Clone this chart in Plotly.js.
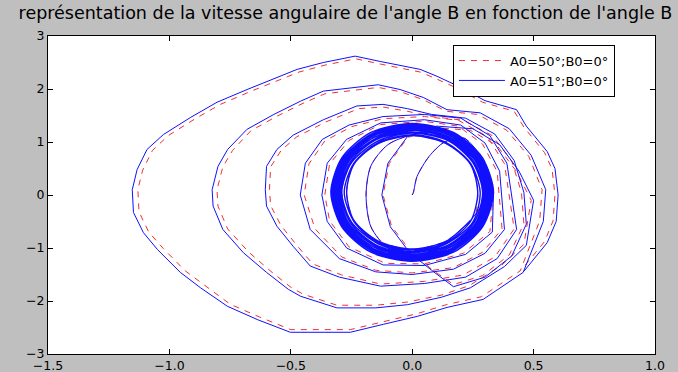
<!DOCTYPE html>
<html>
<head>
<meta charset="utf-8">
<script src="https://cdn.plot.ly/plotly-3.0.1.min.js"></script>
<style>
html,body{margin:0;padding:0;background:#bfbfbf;}
#chart{width:678px;height:372px;}
</style>
</head>
<body>
<div id="chart"></div>
<script>
// ---- data ----
var seriesNames = ["A0=50°;B0=0°", "A0=51°;B0=0°"];
var xTickVals = [-1.5, -1.0, -0.5, 0.0, 0.5, 1.0];
var xTickText = ["−1.5", "−1.0", "−0.5", "0.0", "0.5", "1.0"];
var yTickVals = [-3, -2, -1, 0, 1, 2, 3];
var yTickText = ["−3", "−2", "−1", "0", "1", "2", "3"];

// start at the origin + first inner loops (both series)
var startX = [0, 0.005, 0.02, 0.07, 0.13, 0.21, 0.27, 0.3, 0.29, 0.24,
  0.14, 0.0, -0.1, -0.17, -0.19, -0.17, -0.1, 0.01, 0.14, 0.24, 0.29, 0.29, 0.24];
var startY = [0, 0.05, 0.35, 0.73, 0.99, 1.08, 0.8, 0.3, -0.25, -0.7,
  -1.02, -1.12, -1.0, -0.6, 0.0, 0.55, 0.95, 1.15, 1.18, 0.95, 0.45, -0.15, -0.48];

// blue (A0=51°): dense ring of loops
var blueRingX = [
  0.24,0.14,0,-0.14,-0.24,-0.27,-0.24,-0.14,0,0.14,0.24,0.27,
  0.24,0.14,0.01,-0.14,-0.24,-0.28,-0.24,-0.14,0.01,0.14,0.24,0.28,
  0.25,0.14,0,-0.14,-0.25,-0.29,-0.25,-0.14,0,0.15,0.25,0.29,
  0.255,0.15,-0.01,-0.15,-0.255,-0.295,-0.255,-0.15,0,0.15,0.255,0.295,
  0.26,0.15,0,-0.15,-0.26,-0.30,-0.26,-0.15,0.01,0.15,0.26,0.30,
  0.265,0.15,0,-0.15,-0.265,-0.305,-0.265,-0.15,0,0.155,0.265,0.305,
  0.27,0.155,0.01,-0.155,-0.27,-0.31,-0.27,-0.155,0,0.155,0.27,0.31,
  0.27,0.16,0,-0.16,-0.27,-0.315,-0.27,-0.16,0.01,0.16,0.27,0.315,
  0.275,0.16,-0.01,-0.16,-0.275,-0.32,-0.275,-0.16,0,0.16,0.275,0.32,
  0.28,0.16,0,-0.16,-0.28,-0.32,-0.28,-0.16,0,0.165,0.28,0.32,
  0.28,0.165,0,-0.165,-0.28,-0.325,-0.28,-0.165,0.01,0.165,0.28,0.325,
  0.285,0.165,0,-0.165,-0.285,-0.33,-0.285,-0.165,0,0.165,0.285,0.33,
  0.285,0.165,0.01,-0.165,-0.285,-0.33,-0.285,-0.165,0,0.17,0.29,0.335,
  0.29,0.17,0,-0.17,-0.29,-0.335,-0.29,-0.17,0,0.17,0.29,0.335];
var blueRingY = [
  -0.48,-0.87,-1.02,-0.87,-0.48,0.05,0.58,0.97,1.12,0.97,0.58,0.05,
  -0.5,-0.9,-1.04,-0.9,-0.5,0.05,0.6,0.99,1.14,0.99,0.6,0.05,
  -0.51,-0.92,-1.07,-0.92,-0.51,0.05,0.61,1.02,1.17,1.02,0.61,0.05,
  -0.52,-0.94,-1.09,-0.94,-0.52,0.05,0.62,1.04,1.19,1.04,0.62,0.05,
  -0.54,-0.96,-1.12,-0.96,-0.54,0.05,0.64,1.06,1.22,1.06,0.64,0.05,
  -0.54,-0.97,-1.13,-0.97,-0.54,0.05,0.64,1.07,1.23,1.07,0.64,0.05,
  -0.55,-0.99,-1.15,-0.99,-0.55,0.05,0.65,1.09,1.25,1.09,0.65,0.05,
  -0.56,-1.01,-1.17,-1.01,-0.56,0.05,0.66,1.11,1.27,1.11,0.66,0.05,
  -0.57,-1.02,-1.19,-1.02,-0.57,0.05,0.67,1.12,1.29,1.12,0.67,0.05,
  -0.57,-1.03,-1.2,-1.03,-0.57,0.05,0.67,1.13,1.3,1.13,0.67,0.05,
  -0.58,-1.04,-1.21,-1.04,-0.58,0.05,0.68,1.14,1.31,1.14,0.68,0.05,
  -0.59,-1.05,-1.22,-1.05,-0.59,0.05,0.69,1.15,1.32,1.15,0.69,0.05,
  -0.59,-1.06,-1.24,-1.06,-0.59,0.05,0.69,1.16,1.34,1.16,0.69,0.05,
  -0.6,-1.08,-1.25,-1.08,-0.6,0.05,0.7,1.18,1.35,1.18,0.7,0.05];

// blue : outer loops
var blueOuterX = [
  0.33,0.22,0.05,-0.12,-0.27,-0.35,-0.372,-0.35,-0.27,-0.13,0.05,0.2,0.3,0.36,0.37,
  0.38,0.3,0.17,0.0,-0.15,-0.3,-0.42,-0.461,-0.44,-0.37,-0.26,-0.12,0.05,0.2,0.32,0.39,0.41,
  0.43,0.35,0.22,0.05,-0.13,-0.3,-0.42,-0.49,-0.557,-0.6,-0.605,-0.6,-0.557,-0.49,-0.366,-0.228,-0.12,-0.02,0.08,0.22,0.34,0.42,0.46,
  0.47,0.41,0.3,0.17,0.08,-0.01,-0.09,-0.125,-0.1,-0.02,0.1,0.25,0.36,0.44,0.5,
  0.47,0.38,0.24,0.12,-0.02,-0.15,-0.31,-0.46,-0.51,-0.6,-0.695,-0.78,-0.82,-0.824,-0.8,-0.76,-0.68,-0.57,-0.46,-0.366,-0.14,-0.05,0.046,0.143,0.28,0.4,0.49,0.55,0.54,
  0.457,0.292,0.144,0.021,-0.119,-0.255,-0.502,-0.638,-0.761,-0.872,-0.955,-1.049,-1.107,-1.148,-1.153,-1.133,-1.092,-1.025,-0.914,-0.804,-0.68,-0.557,-0.474,-0.366,-0.235,-0.132,0.033,0.102,0.177,0.3,0.43,0.47,0.556,0.588,0.601,0.593,0.556,0.46];
var blueOuterY = [
  -0.7,-1.12,-1.33,-1.32,-1.0,-0.5,0.0,0.6,1.05,1.36,1.42,1.32,0.98,0.45,-0.15,
  -0.65,-1.1,-1.4,-1.5,-1.45,-1.2,-0.65,0.0,0.6,1.05,1.32,1.48,1.52,1.45,1.12,0.6,0.0,
  -0.65,-1.2,-1.55,-1.67,-1.72,-1.55,-1.34,-0.97,-0.59,-0.21,0.1,0.54,0.86,1.13,1.42,1.68,1.71,1.63,1.52,1.45,1.15,0.65,0.05,
  -0.55,-1.15,-1.55,-1.73,-1.42,-1.09,-0.6,0.0,0.6,1.1,1.3,1.25,0.95,0.45,-0.1,
  -0.95,-1.35,-1.75,-1.93,-2.07,-2.13,-2.13,-1.91,-1.78,-1.46,-1.09,-0.65,-0.21,0.1,0.54,0.86,1.24,1.52,1.77,1.96,2.08,1.99,1.84,1.61,1.55,1.25,0.75,0.1,-0.5,
  -1.46,-1.97,-2.12,-2.29,-2.44,-2.59,-2.59,-2.35,-2.1,-1.75,-1.46,-1.03,-0.71,-0.33,0.1,0.48,0.86,1.14,1.46,1.75,1.99,2.22,2.37,2.5,2.62,2.52,2.37,2.24,2.08,1.78,1.61,1.3,0.82,0.5,0.0,-0.5,-0.9,-1.44];

// red (A0=50°): ring (mostly hidden under the blue one)
var redRingX = [
  0.24,0.14,0,-0.14,-0.24,-0.27,-0.24,-0.14,0,0.14,0.24,0.27,
  0.25,0.14,0,-0.14,-0.25,-0.29,-0.25,-0.14,0,0.15,0.25,0.29,
  0.26,0.15,0,-0.15,-0.26,-0.30,-0.26,-0.15,0.01,0.15,0.26,0.30,
  0.27,0.155,0.01,-0.155,-0.27,-0.31,-0.27,-0.155,0,0.155,0.27,0.31,
  0.275,0.16,-0.01,-0.16,-0.275,-0.32,-0.275,-0.16,0,0.16,0.275,0.32,
  0.28,0.165,0,-0.165,-0.28,-0.325,-0.28,-0.165,0.01,0.165,0.28,0.325,
  0.285,0.165,0.01,-0.165,-0.285,-0.33,-0.285,-0.165,0,0.17,0.29,0.335];
var redRingY = [
  -0.48,-0.87,-1.02,-0.87,-0.48,0.05,0.58,0.97,1.12,0.97,0.58,0.05,
  -0.51,-0.92,-1.07,-0.92,-0.51,0.05,0.61,1.02,1.17,1.02,0.61,0.05,
  -0.54,-0.96,-1.12,-0.96,-0.54,0.05,0.64,1.06,1.22,1.06,0.64,0.05,
  -0.55,-0.99,-1.15,-0.99,-0.55,0.05,0.65,1.09,1.25,1.09,0.65,0.05,
  -0.57,-1.02,-1.19,-1.02,-0.57,0.05,0.67,1.12,1.29,1.12,0.67,0.05,
  -0.58,-1.04,-1.21,-1.04,-0.58,0.05,0.68,1.14,1.31,1.14,0.68,0.05,
  -0.59,-1.06,-1.24,-1.06,-0.59,0.05,0.69,1.16,1.34,1.16,0.69,0.05];

// red : outer loops (slightly inside the blue ones)
var redOuterX = [
  0.32,0.21,0.05,-0.11,-0.26,-0.34,-0.36,-0.34,-0.26,-0.13,0.05,0.19,0.29,0.35,0.36,
  0.37,0.29,0.17,0.0,-0.15,-0.29,-0.4,-0.445,-0.425,-0.36,-0.25,-0.12,0.05,0.19,0.31,0.38,0.4,
  0.42,0.34,0.21,0.05,-0.13,-0.29,-0.41,-0.475,-0.54,-0.583,-0.588,-0.583,-0.54,-0.475,-0.355,-0.22,-0.12,-0.02,0.08,0.21,0.33,0.41,0.45,
  0.46,0.4,0.29,0.17,0.08,-0.005,-0.085,-0.12,-0.095,-0.02,0.1,0.24,0.35,0.43,0.49,
  0.46,0.37,0.235,0.12,-0.02,-0.15,-0.31,-0.45,-0.5,-0.585,-0.675,-0.76,-0.8,-0.804,-0.78,-0.74,-0.665,-0.56,-0.45,-0.36,-0.14,-0.05,0.045,0.14,0.27,0.39,0.48,0.535,0.525,
  0.445,0.285,0.14,0.02,-0.118,-0.255,-0.5,-0.63,-0.75,-0.855,-0.935,-1.025,-1.085,-1.125,-1.13,-1.11,-1.07,-1.005,-0.897,-0.79,-0.668,-0.548,-0.466,-0.36,-0.232,-0.13,0.033,0.1,0.173,0.29,0.42,0.46,0.545,0.576,0.588,0.58,0.545,0.45];
var redOuterY = [
  -0.69,-1.1,-1.3,-1.29,-0.98,-0.49,0.0,0.59,1.03,1.33,1.39,1.3,0.96,0.44,-0.15,
  -0.64,-1.08,-1.37,-1.47,-1.42,-1.17,-0.64,0.0,0.59,1.02,1.29,1.44,1.48,1.41,1.1,0.59,0.0,
  -0.64,-1.17,-1.51,-1.63,-1.68,-1.51,-1.3,-0.95,-0.58,-0.2,0.1,0.53,0.84,1.1,1.38,1.63,1.66,1.58,1.48,1.41,1.12,0.64,0.05,
  -0.54,-1.13,-1.52,-1.69,-1.4,-1.07,-0.59,0.0,0.59,1.08,1.27,1.22,0.93,0.44,-0.1,
  -0.93,-1.32,-1.71,-1.89,-2.02,-2.08,-2.08,-1.87,-1.74,-1.43,-1.07,-0.64,-0.21,0.1,0.53,0.84,1.21,1.48,1.73,1.91,2.03,1.95,1.8,1.58,1.52,1.22,0.73,0.1,-0.49,
  -1.43,-1.92,-2.07,-2.24,-2.39,-2.54,-2.54,-2.3,-2.06,-1.71,-1.43,-1.01,-0.7,-0.32,0.1,0.47,0.84,1.12,1.43,1.71,1.95,2.17,2.32,2.45,2.57,2.47,2.32,2.19,2.04,1.75,1.58,1.28,0.8,0.49,0.0,-0.49,-0.88,-1.41];

var FONT = "DejaVu Sans, Liberation Sans, sans-serif";
var RED = "#f03030", BLUE = "#1010ff";
var redDash = "6px,6px";

function lastOf(a) { return a[a.length - 1]; }

var traces = [
  {x: startX.concat(redRingX), y: startY.concat(redRingY), type: "scatter", mode: "lines",
   name: seriesNames[0], legendgroup: "r", showlegend: false,
   line: {color: RED, width: 1, dash: redDash, shape: "spline", smoothing: 0.8}},
  {x: [lastOf(redRingX)].concat(redOuterX), y: [lastOf(redRingY)].concat(redOuterY),
   type: "scatter", mode: "lines", name: seriesNames[0], legendgroup: "r",
   line: {color: RED, width: 1, dash: redDash}},
  {x: startX, y: startY, type: "scatter", mode: "lines",
   name: seriesNames[1], legendgroup: "b", showlegend: false,
   line: {color: BLUE, width: 1, shape: "spline", smoothing: 0.8}},
  {x: blueRingX, y: blueRingY, type: "scatter", mode: "lines",
   name: seriesNames[1], legendgroup: "b", showlegend: false,
   line: {color: BLUE, width: 1.4, shape: "spline", smoothing: 0.8}},
  {x: [lastOf(blueRingX)].concat(blueOuterX), y: [lastOf(blueRingY)].concat(blueOuterY),
   type: "scatter", mode: "lines", name: seriesNames[1], legendgroup: "b",
   line: {color: BLUE, width: 1}}
];

var axisCommon = {
  showline: true, mirror: "ticks", linecolor: "#000", linewidth: 1,
  ticks: "inside", ticklen: 5, tickcolor: "#000", tickwidth: 1,
  showgrid: false, zeroline: false, automargin: false,
  tickfont: {family: FONT, size: 12.5, color: "#000"}
};

var layout = {
  width: 678, height: 372,
  paper_bgcolor: "#bfbfbf", plot_bgcolor: "#ffffff",
  margin: {l: 48, r: 23, t: 36, b: 18, pad: 0},
  title: {text: "représentation de la vitesse angulaire de l'angle B en fonction de l'angle B",
          font: {family: FONT, size: 17.5, color: "#000"},
          x: 0.49, xref: "paper", xanchor: "center",
          y: 0.966, yref: "container", yanchor: "middle"},
  xaxis: Object.assign({}, axisCommon, {range: [-1.5, 1.0], tickvals: xTickVals, ticktext: xTickText}),
  yaxis: Object.assign({}, axisCommon, {range: [-3, 3], tickvals: yTickVals, ticktext: yTickText}),
  showlegend: true,
  legend: {x: 0.934, y: 0.973, xanchor: "right", yanchor: "top",
           bgcolor: "#ffffff", bordercolor: "#000", borderwidth: 1,
           font: {family: FONT, size: 13, color: "#000"},
           itemwidth: 46, tracegroupgap: 0}
};

Plotly.newPlot("chart", traces, layout, {staticPlot: true, displayModeBar: false});
</script>
</body>
</html>
